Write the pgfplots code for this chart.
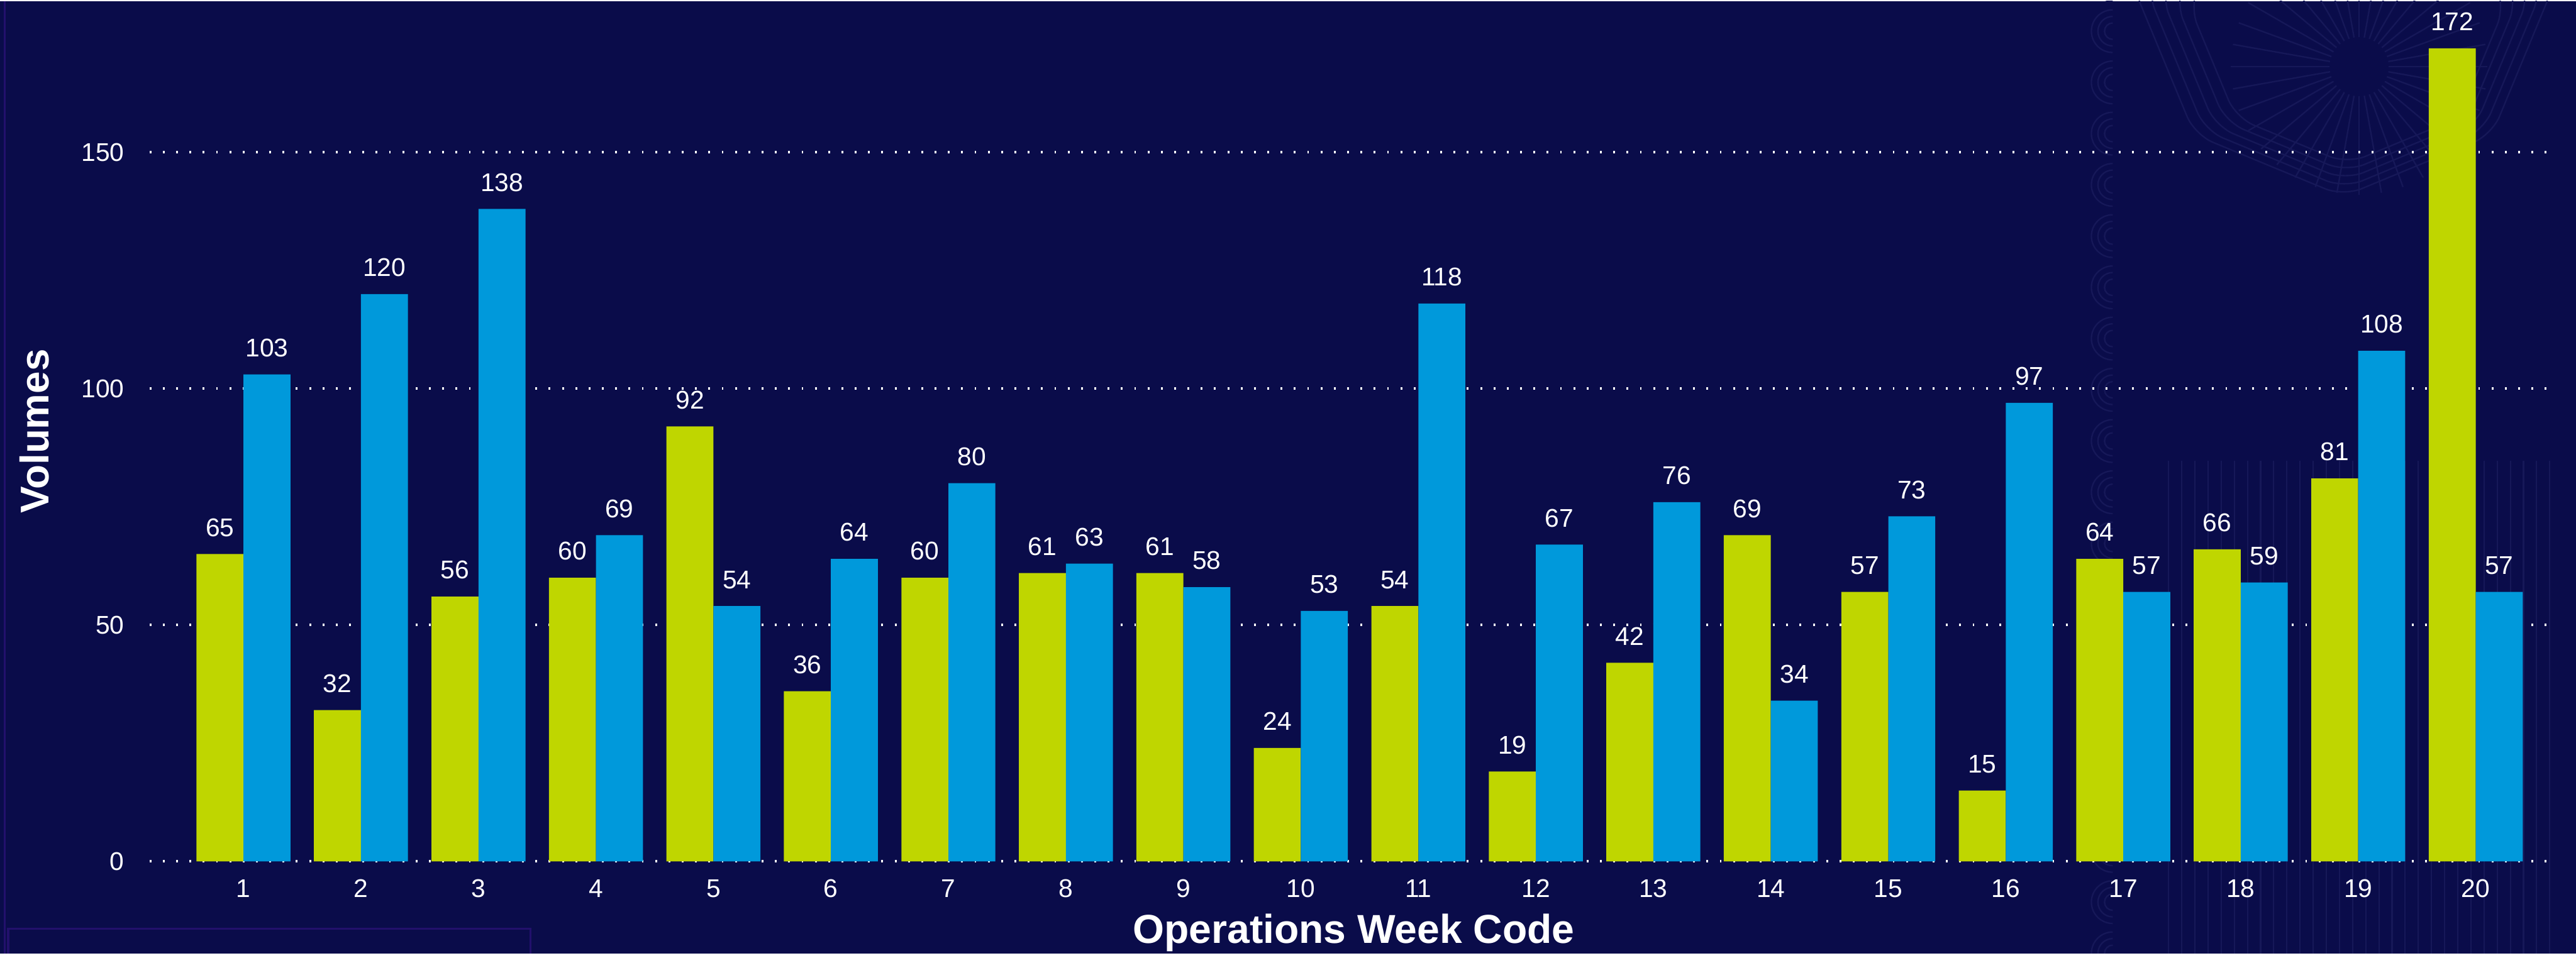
\documentclass[border=0pt]{standalone}
\usepackage{pgfplots}
\pgfplotsset{compat=1.18}
\usepackage{fontspec}
\setmainfont{Liberation Sans}
\definecolor{bg}{HTML}{0A0C4A}
\definecolor{gr}{HTML}{BFD600}
\definecolor{bl}{HTML}{0099DB}
\definecolor{deco}{HTML}{22106C}
\definecolor{pat}{HTML}{161858}
\begin{document}
\begin{tikzpicture}
\fill[bg] (0,0) rectangle (784pt,290pt);
\begin{scope}
\clip (620pt,0) rectangle (784pt,290pt);
% wave column
\foreach \y in {0,15.6,...,300}{
  \foreach \r in {2.5,4.5,6.5}{
    \draw[pat, line width=0.45pt] (643pt,\y pt+\r pt) arc[start angle=90, end angle=270, radius=\r pt];
  }
}
% sunburst
\foreach \a in {0,10,...,350}{
  \draw[pat, line width=0.45pt] (718pt,270pt) ++(\a:9pt) -- ++(\a:30pt);
}
% concentric octagons
\foreach \r in {48,52,56,60,64}{
  \draw[pat, line width=0.45pt, rounded corners=6pt] (718pt,270pt) ++(22.5:\r pt)
    -- ++(112.5:0.765*\r pt) -- ++(157.5:0.765*\r pt) -- ++(202.5:0.765*\r pt) -- ++(247.5:0.765*\r pt)
    -- ++(292.5:0.765*\r pt) -- ++(337.5:0.765*\r pt) -- ++(22.5:0.765*\r pt) -- cycle;
}
% vertical hatch lower area
\foreach \x in {660,664,...,776}{
  \draw[pat, line width=0.4pt] (\x pt,0) -- (\x pt,150pt);
}
\end{scope}
\draw[deco, line width=0.6pt] (1.5pt,0) -- (1.5pt,290pt);
\draw[deco, line width=0.6pt] (2.5pt,0) -- (2.5pt,7.5pt) -- (161.5pt,7.5pt) -- (161.5pt,0);
\begin{axis}[
  at={(45.5pt,28pt)}, anchor=south west,
  scale only axis, width=733pt, height=262pt,
  xmin=0.2, xmax=20.7, ymin=0, ymax=182,
  ybar, bar width=0.4,
  axis line style={draw=none},
  major tick length=0pt,
  xtick={1,...,20}, ytick={0,50,100,150},
  ymajorgrids,
  grid style={white, line width=0.8pt, dash pattern=on 0.55pt off 3.5pt},
  /pgf/number format/assume math mode=true,
  ticklabel style={font=\fontsize{7.8}{9}\selectfont, text=white, inner sep=0pt},
  xticklabel style={anchor=base, yshift=-11pt},
  yticklabel style={anchor=east, xshift=-7.5pt},
  xlabel={Operations Week Code},
  xlabel style={at={(axis description cs:0.5,-0.0954)}, anchor=base, font=\bfseries\fontsize{12.3}{14}\selectfont, text=white},
  ylabel={Volumes},
  ylabel style={at={(axis description cs:-0.0477,0.5)}, anchor=center, font=\bfseries\fontsize{12.2}{14}\selectfont, text=white},
  nodes near coords,
  nodes near coords style={font=\fontsize{7.8}{9}\selectfont, text=white, anchor=base, yshift=5.4pt, inner sep=0pt},
  clip=false,
]
\addplot[fill=gr, draw=none, bar shift=-0.2] coordinates {
(1,65) (2,32) (3,56) (4,60) (5,92) (6,36) (7,60) (8,61) (9,61) (10,24)
(11,54) (12,19) (13,42) (14,69) (15,57) (16,15) (17,64) (18,66) (19,81) (20,172)};
\addplot[fill=bl, draw=none, bar shift=0.2] coordinates {
(1,103) (2,120) (3,138) (4,69) (5,54) (6,64) (7,80) (8,63) (9,58) (10,53)
(11,118) (12,67) (13,76) (14,34) (15,73) (16,97) (17,57) (18,59) (19,108) (20,57)};
\end{axis}
\end{tikzpicture}
\end{document}
